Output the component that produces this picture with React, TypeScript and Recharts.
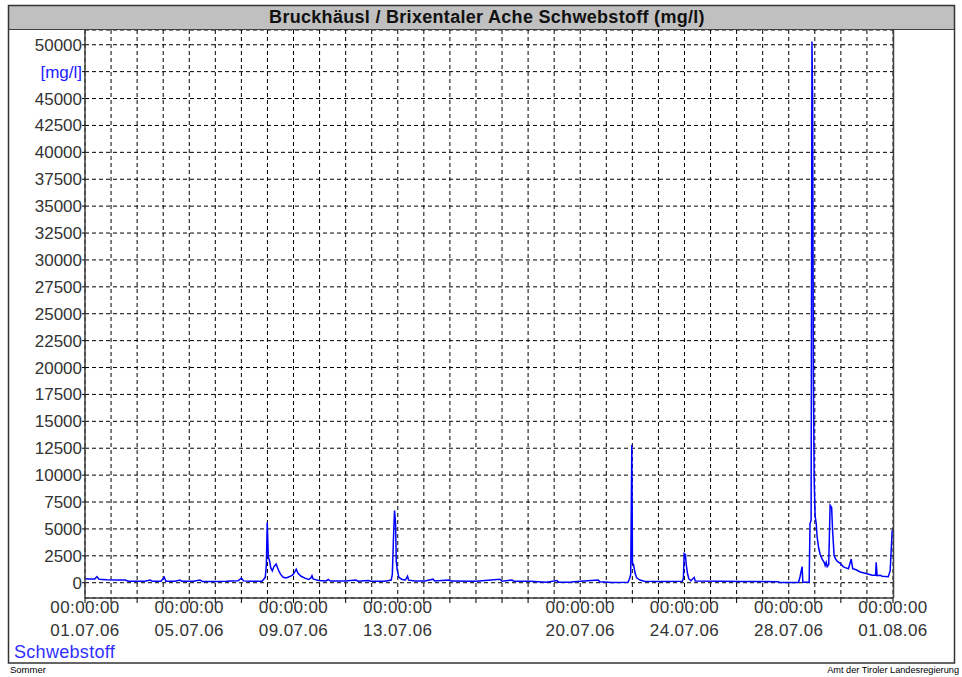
import { CartesianGrid, Line, LineChart, XAxis, YAxis } from "recharts";

// Schwebstoff readings, Bruckhäusl / Brixentaler Ache, July 2006.
// Hours are counted from 01.07.06 00:00; values in mg/l.
const HOURS = [
  0, 4, 9, 11, 13, 20, 30, 37, 40, 50, 55, 60, 62, 70, 73, 74.5, 83, 87.5, 89, 100,
  106, 108, 120, 130, 141, 144, 146, 152, 163, 166, 167, 167.8, 168.8, 170, 171, 172.5,
  174, 176, 178, 180, 182.5, 185, 188, 191, 192.5, 194.5, 196, 199, 203, 206, 208, 209,
  210, 215, 222, 224, 226, 240, 249.6, 251, 261, 263, 276, 282, 283, 284, 285, 286,
  286.6, 287.5, 289, 292, 295, 297, 298, 304, 313, 320.5, 322, 335, 337, 360, 382, 384,
  393, 395, 410, 425, 434.7, 436, 446.7, 450, 472.5, 474, 485.4, 500, 501.5, 502.5,
  503.5, 504.1, 505, 506.5, 508, 511, 515, 530, 550, 551, 551.7, 552.9, 553.5, 554.7,
  556, 558, 560.9, 562, 585, 603, 620, 638, 640, 657, 658.5, 660.3, 661, 666.8, 667.6,
  668.6, 669.4, 670, 670.7, 671.4, 672.3, 673.3, 674.2, 675.6, 677, 678.8, 680.6, 681.5,
  682.5, 683.4, 684.8, 686.1, 687.5, 688.4, 689.8, 691.2, 692.6, 695.4, 698.1, 700, 703,
  705.5, 706.9, 710.1, 713.8, 719.3, 724.8, 728, 728.5, 729.4, 732.2, 734, 739.6, 741.4,
  743.2, 744,
];

const SCHWEBSTOFF = [
  360, 340, 350, 560, 330, 270, 260, 250, 140, 130, 140, 250, 130, 130, 520, 140, 130, 240, 130, 130,
  250, 120, 120, 130, 180, 430, 170, 130, 140, 500, 1700, 5600, 2400, 2000, 1400, 1100,
  1500, 1750, 1200, 800, 500, 450, 550, 700, 900, 1250, 900, 600, 400, 300, 450, 650,
  350, 200, 170, 300, 160, 150, 250, 140, 200, 140, 140, 250, 800, 4000, 6700, 5500,
  2000, 1200, 500, 300, 250, 600, 240, 170, 160, 330, 160, 250, 150, 140, 330, 140,
  250, 140, 130, 40, 200, 40, 40, 100, 250, 100, 30, 40, 400, 800,
  12800, 1800, 1700, 900, 450, 250, 130, 120, 130, 400, 2700, 2600, 1800, 900,
  350, 180, 500, 150, 130, 120, 110, 100, 30, 30, 600, 1500, 40, 50, 5500,
  5800, 50300, 45000, 19200, 9500, 6200, 5500, 4200, 3200, 2600, 2200, 1900, 1600,
  1900, 1500, 1700, 7200, 7000, 4800, 2500, 2200, 2000, 1800, 1500, 1400, 1300,
  2200, 1300, 1200, 1000, 850, 700, 700, 1900, 650, 700, 600, 550, 1100,
  4800, 4900,
];

const Y_TICKS = [
  0, 2500, 5000, 7500, 10000, 12500, 15000, 17500, 20000, 22500, 25000, 27500, 30000,
  32500, 35000, 37500, 40000, 42500, 45000, 47500, 50000,
];
const Y_UNIT_TICK = 47500;
const Y_UNIT = "[mg/l]";

// one tick per day
const DAY_TICKS = [
  0, 24, 48, 72, 96, 120, 144, 168, 192, 216, 240, 264, 288, 312, 336, 360, 384, 408,
  432, 456, 480, 504, 528, 552, 576, 600, 624, 648, 672, 696, 720, 744,
];
const LABEL_HOURS = [0, 96, 192, 288, 456, 552, 648, 744];
const LABEL_DATES = [
  "01.07.06", "05.07.06", "09.07.06", "13.07.06", "20.07.06", "24.07.06", "28.07.06", "01.08.06",
];
const LABEL_TIME = "00:00:00";

const TITLE = "Bruckhäusl / Brixentaler Ache Schwebstoff (mg/l)";
const SERIES_NAME = "Schwebstoff";
const FOOTER_LEFT = "Sommer";
const FOOTER_RIGHT = "Amt der Tiroler Landesregierung";

const data = HOURS.map((h, i) => ({ h, v: SCHWEBSTOFF[i] }));

const FONT = "'Liberation Sans', Arial, sans-serif";
const LINE_BLUE = "#0000ff";
const TEXT_GREY = "#333333";

function YTick(props: any) {
  const { x, y, payload } = props;
  const isUnit = payload.value === Y_UNIT_TICK;
  return (
    <text
      x={x}
      y={y + 6}
      textAnchor="end"
      fontFamily={FONT}
      fontSize={17}
      fill={isUnit ? "#2020ff" : TEXT_GREY}
    >
      {isUnit ? Y_UNIT : payload.value}
    </text>
  );
}

function XTick(props: any) {
  const { x, y, payload } = props;
  const idx = LABEL_HOURS.indexOf(payload.value);
  if (idx < 0) return <g />;
  return (
    <g fontFamily={FONT} fontSize={17} fill={TEXT_GREY} letterSpacing={0.4}>
      <text x={x} y={y + 10} textAnchor="middle">
        {LABEL_TIME}
      </text>
      <text x={x} y={y + 33} textAnchor="middle">
        {LABEL_DATES[idx]}
      </text>
    </g>
  );
}

export default function App() {
  return (
    <div
      style={{
        position: "absolute",
        left: 0,
        top: 0,
        width: 962,
        height: 677,
        background: "#ffffff",
      }}
    >
      <LineChart
        width={962}
        height={677}
        data={data}
        margin={{ top: 30, right: 69, bottom: 22, left: 8 }}
      >
        <CartesianGrid stroke="#000000" strokeDasharray="4 3" />
        <XAxis
          dataKey="h"
          type="number"
          domain={[0, 744]}
          ticks={DAY_TICKS}
          interval={0}
          height={57}
          tickSize={5}
          tickMargin={0}
          tick={<XTick />}
          axisLine={{ stroke: "#404040", strokeWidth: 1.5 }}
          tickLine={{ stroke: "#000000" }}
        />
        <YAxis
          type="number"
          domain={[-1420, 51370]}
          ticks={Y_TICKS}
          interval={0}
          width={77}
          tickSize={3}
          tickMargin={0}
          tick={<YTick />}
          axisLine={{ stroke: "#404040", strokeWidth: 1.5 }}
          tickLine={{ stroke: "#000000" }}
        />
        <Line
          type="linear"
          dataKey="v"
          stroke={LINE_BLUE}
          strokeWidth={1.5}
          dot={false}
          isAnimationActive={false}
        />
      </LineChart>

      <svg
        width={962}
        height={677}
        style={{ position: "absolute", left: 0, top: 0, pointerEvents: "none" }}
      >
        <rect x={9} y={6} width={945} height={23} fill="#c0c0c0" />
        <line x1={8} y1={29.5} x2={955} y2={29.5} stroke="#404040" />
        <rect x={8.5} y={5.5} width={946} height={657.5} fill="none" stroke="#333333" strokeWidth={1.5} />
        <line x1={893.5} y1={30} x2={893.5} y2={598} stroke="#404040" strokeWidth={1.5} />
        <text
          x={487}
          y={23}
          textAnchor="middle"
          fontFamily={FONT}
          fontWeight="bold"
          fontSize={18}
          letterSpacing={0.3}
          fill="#111111"
        >
          {TITLE}
        </text>
        <text x={14} y={658} fontFamily={FONT} fontSize={18} fill="#3030ff" letterSpacing={0.3}>
          {SERIES_NAME}
        </text>
        <text x={10} y={673} fontFamily={FONT} fontSize={9.5} fill="#000000">
          {FOOTER_LEFT}
        </text>
        <text x={959} y={673} textAnchor="end" fontFamily={FONT} fontSize={9.2} fill="#000000">
          {FOOTER_RIGHT}
        </text>
      </svg>
    </div>
  );
}
